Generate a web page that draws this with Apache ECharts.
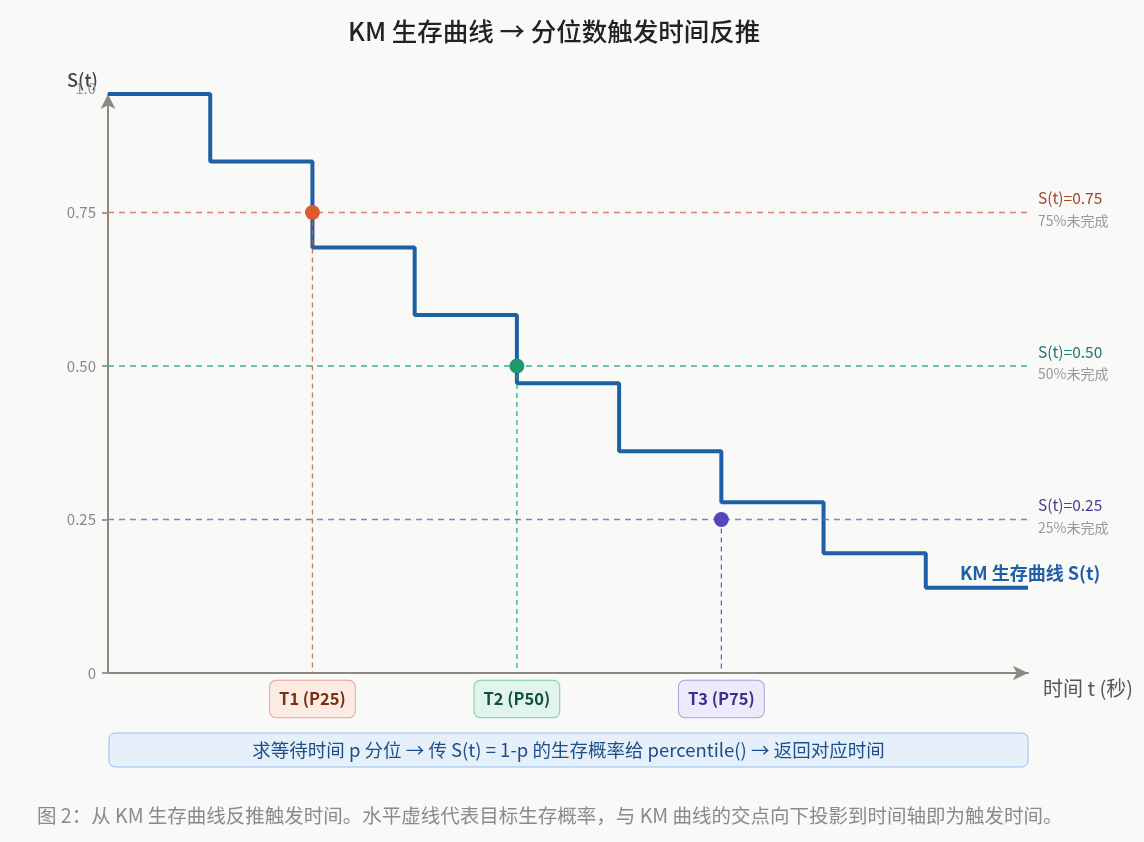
<!DOCTYPE html>
<html>
<head>
<meta charset="utf-8">
<script src="https://cdn.jsdelivr.net/npm/echarts@6/dist/echarts.min.js"></script>
<style>
html,body{margin:0;padding:0;background:#f9f9f7;}
#chart{width:1144px;height:842px;}
</style>
</head>
<body>
<div id="chart"></div>
<script>
// ---- data ----
const kmTimes = [0, 1, 2, 3, 4, 5, 6, 7, 8, 9];
const kmSurvival = [0.943, 0.833, 0.693, 0.583, 0.472, 0.361, 0.278, 0.195, 0.139, 0.139];
const targetLevels = [0.75, 0.50, 0.25];
const targetLabels = ['S(t)=0.75', 'S(t)=0.50', 'S(t)=0.25'];
const targetNotes = ['75%未完成', '50%未完成', '25%未完成'];
const triggerTimes = [2, 4, 6];
const triggerNames = ['T1 (P25)', 'T2 (P50)', 'T3 (P75)'];
const yTickValues = [0, 0.25, 0.5, 0.75, 0.943];
const yTickLabels = ['0', '0.25', '0.50', '0.75', '1.0'];
const xMin = 0, xMax = 9;
const titleText = 'KM 生存曲线 → 分位数触发时间反推';
const xAxisName = '时间 t (秒)';
const yAxisName = 'S(t)';
const kmName = 'KM 生存曲线 S(t)';
const noteText = '求等待时间 p 分位 → 传 S(t) = 1-p 的生存概率给 percentile() → 返回对应时间';
const captionText = '图 2：从 KM 生存曲线反推触发时间。水平虚线代表目标生存概率，与 KM 曲线的交点向下投影到时间轴即为触发时间。';

// ---- styles ----
const FONT = "'Noto Sans CJK SC', 'Noto Sans', sans-serif";
const hColors = ['rgba(205,95,65,0.75)', 'rgba(30,165,115,0.85)', 'rgba(105,95,205,0.8)'];
const vColors = ['rgba(200,95,65,0.85)', 'rgba(30,165,115,0.9)', 'rgba(95,85,200,0.9)'];
const dotColors = ['#dc5a2e', '#1f9a6e', '#5347bb'];
const labelColors = ['#a5452a', '#1b7a70', '#4a3d8f'];
const boxStyles = [
  {bg: '#fcebe3', border: '#e8a58c', text: '#7a2e12'},
  {bg: '#e0f4ec', border: '#7fcaa8', text: '#0f5040'},
  {bg: '#eceafb', border: '#a8a0e4', text: '#3a308a'}
];

const chart = echarts.init(document.getElementById('chart'), null, {renderer: 'canvas'});

const series = [];
// KM step curve
series.push({
  type: 'line',
  name: kmName,
  step: 'end',
  data: kmTimes.map((t, i) => [t, kmSurvival[i]]),
  showSymbol: false,
  lineStyle: {color: '#1f5fa6', width: 4},
  z: 3,
  endLabel: {
    show: true,
    formatter: kmName,
    color: '#1f5fa6',
    fontSize: 18,
    fontWeight: 600,
    fontFamily: FONT,
    distance: 0,
    offset: [-68, -14]
  }
});
// horizontal target lines
targetLevels.forEach((lv, i) => {
  series.push({
    type: 'line',
    data: [[xMin, lv], [xMax, lv]],
    showSymbol: false,
    lineStyle: {color: hColors[i], width: 1.4, type: [6, 5]},
    z: 4,
    endLabel: {
      show: true,
      distance: 10,
      offset: [0, -3],
      formatter: '{a|' + targetLabels[i] + '}\n{b|' + targetNotes[i] + '}',
      rich: {
        a: {color: labelColors[i], fontSize: 15.5, lineHeight: 22, fontFamily: FONT},
        b: {color: '#999', fontSize: 14, lineHeight: 22, fontFamily: FONT}
      }
    }
  });
});
// vertical projection lines
triggerTimes.forEach((t, i) => {
  series.push({
    type: 'line',
    data: [[t, targetLevels[i]], [t, 0]],
    showSymbol: false,
    lineStyle: {color: vColors[i], width: 1.3, type: [5, 4]},
    z: 5
  });
});
// intersection points
series.push({
  type: 'scatter',
  data: triggerTimes.map((t, i) => ({value: [t, targetLevels[i]], itemStyle: {color: dotColors[i], opacity: 1}})),
  symbolSize: 15,
  z: 6
});

const rich = {};
triggerNames.forEach((n, i) => {
  rich['t' + i] = {
    color: boxStyles[i].text,
    backgroundColor: boxStyles[i].bg,
    borderColor: boxStyles[i].border,
    borderWidth: 1,
    borderRadius: 6,
    padding: [10, 9, 10, 9],
    fontSize: 16.5,
    fontWeight: 600,
    lineHeight: 20,
    fontFamily: FONT
  };
});

chart.setOption({
  animation: false,
  backgroundColor: '#f9f9f7',
  textStyle: {fontFamily: FONT},
  title: {
    text: titleText,
    left: 343,
    top: 14,
    textStyle: {fontSize: 25.5, fontWeight: 500, color: '#222', fontFamily: FONT}
  },
  grid: {left: 108, right: 116, top: 94, bottom: 169},
  xAxis: {
    type: 'value',
    min: xMin,
    max: xMax,
    name: xAxisName,
    nameLocation: 'end',
    nameGap: 15,
    nameMoveOverlap: false,
    nameTextStyle: {color: '#555', fontSize: 20, fontFamily: FONT, verticalAlign: 'top', padding: [5, 0, 0, 0]},
    splitLine: {show: false},
    axisLine: {show: true, symbol: ['none', 'arrow'], symbolSize: [11, 15], lineStyle: {color: '#8a8a82', width: 2}},
    axisTick: {show: false},
    axisLabel: {
      show: true,
      customValues: triggerTimes,
      margin: 16,
      formatter: (v) => {
        const i = triggerTimes.indexOf(v);
        return i >= 0 ? '{t' + i + '|' + triggerNames[i] + '}' : '';
      },
      rich: rich
    }
  },
  yAxis: {
    type: 'value',
    min: 0,
    max: yTickValues[yTickValues.length - 1],
    name: yAxisName,
    nameLocation: 'end',
    nameGap: 14,
    nameMoveOverlap: false,
    nameTextStyle: {color: '#444', fontSize: 18, fontWeight: 500, fontFamily: FONT, align: 'right', verticalAlign: 'middle', padding: [0, 10, 0, 0]},
    splitLine: {show: false},
    axisLine: {show: true, symbol: ['none', 'arrow'], symbolSize: [11, 15], lineStyle: {color: '#8a8a82', width: 2}},
    axisTick: {show: true, customValues: yTickValues.slice(0, 4), length: 6, lineStyle: {color: '#999', width: 2}},
    axisLabel: {
      customValues: yTickValues,
      margin: 12,
      color: '#888',
      fontSize: 15,
      fontFamily: FONT,
      formatter: (v) => {
        const i = yTickValues.indexOf(v);
        if (i === yTickValues.length - 1) return '{top|' + yTickLabels[i] + '}';
        return i >= 0 ? yTickLabels[i] : '';
      },
      rich: {top: {color: '#999', fontSize: 15, padding: [0, 0, 12, 0]}}
    }
  },
  series: series,
  graphic: [
    {
      type: 'rect',
      shape: {x: 109, y: 733, width: 919, height: 34, r: 6},
      style: {fill: '#e6f0fb', stroke: '#96c0ea', lineWidth: 1},
      z: 10
    },
    {
      type: 'text',
      x: 568.5,
      y: 750,
      style: {text: noteText, fill: '#1e4f86', fontSize: 18.5, fontFamily: FONT, align: 'center', verticalAlign: 'middle'},
      z: 11
    },
    {
      type: 'text',
      x: 37,
      y: 816,
      style: {text: captionText, fill: '#8a8a8a', fontSize: 19.5, fontFamily: FONT, align: 'left', verticalAlign: 'middle'},
      z: 11
    }
  ]
});
</script>
</body>
</html>
